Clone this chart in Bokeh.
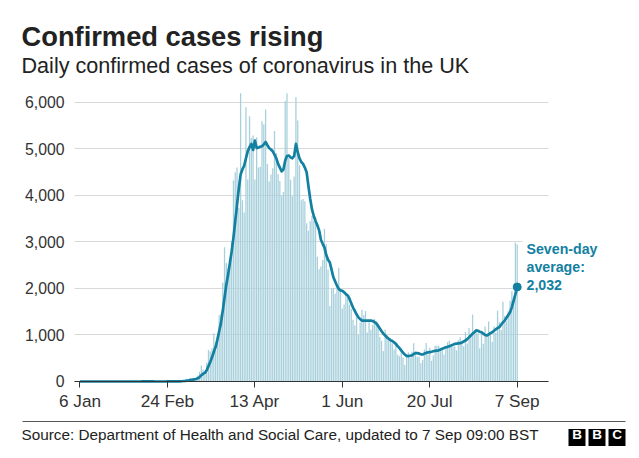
import pandas as pd
from bokeh.plotting import figure
from bokeh.models import (Range1d, FixedTicker, NumeralTickFormatter,
                          DatetimeTickFormatter, Label, BoxAnnotation)
from bokeh.embed import file_html
from bokeh.resources import INLINE

# ---------------- data ----------------
start_date = "2020-01-06"

daily_cases = [
    0, 0, 0, 0, 0, 0, 0, 0, 0, 0,
    0, 0, 0, 0, 0, 0, 0, 0, 0, 0,
    0, 0, 0, 0, 0, 2, 0, 0, 0, 0,
    0, 1, 0, 0, 0, 4, 1, 0, 1, 0,
    0, 0, 0, 0, 0, 0, 0, 0, 0, 4,
    0, 0, 2, 5, 3, 12, 4, 11, 34, 29,
    48, 45, 69, 43, 62, 77, 130, 208, 342, 251,
    152, 407, 676, 643, 714, 1035, 665, 967, 1427, 1452,
    2129, 2885, 2546, 2433, 2619, 3009, 4324, 4500, 4600, 3735,
    6200, 3900, 3634, 5900, 4344, 5706, 5234, 5288, 4342, 5252,
    4603, 4617, 5599, 5525, 5850, 4676, 4301, 4451, 4583, 5386,
    4913, 4463, 4309, 3996, 4076, 6032, 6201, 4806, 4339, 3985,
    4406, 6111, 5614, 4649, 3896, 3923, 3877, 3403, 3242, 3446,
    3560, 3451, 3534, 2684, 2412, 2472, 2615, 3287, 2959, 2409,
    1625, 2004, 2013, 1887, 2095, 2445, 1936, 1570, 1653, 1871,
    1805, 1650, 1557, 1326, 1205, 1387, 1003, 1266, 1541, 1425,
    1514, 1056, 1279, 1115, 1218, 1346, 1295, 1221, 958, 874,
    653, 1118, 1006, 890, 901, 815, 689, 829, 576, 544,
    624, 516, 352, 581, 630, 512, 642, 820, 650, 530,
    538, 398, 463, 687, 827, 580, 725, 445, 560, 769,
    768, 767, 686, 685, 581, 763, 846, 880, 743, 744,
    758, 670, 892, 950, 871, 758, 1062, 816, 1148, 1009,
    1441, 1012, 1077, 1040, 713, 1089, 812, 1182, 1033, 1288,
    1041, 853, 1184, 1048, 1522, 1276, 1108, 1715, 1406, 1295,
    1508, 1735, 1940, 1813, 2988, 2948,
]

seven_day_avg = [
    0, 0, 0, 0, 0, 0, 0, 0, 0, 0,
    0, 0, 0, 0, 0, 0, 0, 0, 0, 0,
    0, 0, 0, 0, 0, 0, 0, 0, 0, 0,
    0, 0, 0, 0, 0, 1, 1, 1, 1, 1,
    1, 1, 0, 0, 0, 0, 0, 0, 0, 1,
    1, 1, 1, 2, 2, 4, 4, 5, 10, 14,
    20, 26, 36, 40, 47, 53, 68, 93, 135, 165,
    185, 240, 330, 420, 520, 640, 740, 900, 1080, 1260,
    1520, 1800, 2080, 2300, 2550, 2800, 3100, 3450, 3800, 4150,
    4450, 4560, 4640, 4800, 4950, 5040, 5110, 4980, 5180, 5020,
    5030, 5050, 5060, 5100, 5150, 5080, 5020, 4990, 4950, 4880,
    4800, 4680, 4600, 4520, 4560, 4750, 4850, 4860, 4820, 4800,
    4850, 5110, 4930, 4800, 4720, 4680, 4600, 4500, 4200, 3930,
    3700, 3560, 3450, 3360, 3250, 3050, 2960, 2880, 2720, 2620,
    2560, 2400, 2240, 2150, 2060, 1990, 1960, 1950, 1920, 1880,
    1850, 1780, 1680, 1590, 1520, 1440, 1380, 1340, 1310, 1310,
    1310, 1310, 1310, 1310, 1300, 1280, 1250, 1200, 1140, 1080,
    1030, 990, 950, 920, 890, 870, 840, 810, 760, 720,
    670, 620, 580, 550, 545, 555, 560, 590, 610, 610,
    600, 585, 580, 600, 615, 625, 630, 640, 650, 660,
    665, 670, 690, 705, 720, 735, 745, 760, 775, 790,
    810, 815, 820, 825, 840, 860, 880, 910, 950, 990,
    1025, 1060, 1100, 1090, 1070, 1060, 1030, 1000, 990, 1010,
    1040, 1060, 1090, 1120, 1150, 1170, 1220, 1270, 1310, 1370,
    1430, 1490, 1600, 1740, 1880, 2032,
]

tick_dates = ["2020-01-06", "2020-02-24", "2020-04-13",
              "2020-06-01", "2020-07-20", "2020-09-07"]
y_ticks = [0, 1000, 2000, 3000, 4000, 5000, 6000]

title_text = "Confirmed cases rising"
subtitle_text = "Daily confirmed cases of coronavirus in the UK"
source_text = "Source: Department of Health and Social Care, updated to 7 Sep 09:00 BST"
annot_lines = ["Seven-day", "average:", "2,032"]
logo_letters = ["B", "B", "C"]

# ---------------- styling / layout ----------------
FONT = "Liberation Sans"
LINE_COL = "#1380A1"
BAR_COL = "#a7d0dc"
TEXT_COL = "#222222"
W, H = 631, 450
LABEL_DY = 8  # label baseline correction

dates = pd.date_range(start_date, periods=len(daily_cases), freq="D")
t0 = pd.Timestamp(start_date)
DAY_MS = 86400000


def ms(days):
    return (t0 + pd.Timedelta(days=days)).value / 1e6


chart_left, chart_right = ms(-3.08), ms(262.5)

p = figure(width=W, height=H, x_axis_type="datetime",
           x_range=Range1d(ms(-44.55), ms(309.05)),
           y_range=Range1d(-1484, 8193),
           output_backend="svg", toolbar_location=None,
           min_border_left=0, min_border_right=0,
           min_border_top=0, min_border_bottom=0)
p.outline_line_color = None
p.background_fill_color = "white"
p.border_fill_color = "white"

# grid
p.xgrid.visible = False
p.ygrid.ticker = FixedTicker(ticks=y_ticks)
p.ygrid.grid_line_color = "#d9d9d9"
p.ygrid.grid_line_width = 1
try:
    p.ygrid.cross_bounds = (chart_left, chart_right)
except AttributeError:
    p.ygrid.visible = False
    p.segment(x0=[chart_left] * len(y_ticks), y0=y_ticks,
              x1=[chart_right] * len(y_ticks), y1=y_ticks,
              line_color="#d9d9d9", line_width=1)

# data marks
p.vbar(x=dates, top=daily_cases, width=0.72 * DAY_MS, color=BAR_COL, line_color=None)
p.line(x=dates, y=seven_day_avg, line_color=LINE_COL, line_width=2.7, line_join="round")
p.scatter(x=[dates[-1]], y=[seven_day_avg[-1]], size=8, color=LINE_COL)

# axes
xa = p.xaxis[0]
xa.fixed_location = 0
xa.bounds = (chart_left, chart_right)
xa.ticker = FixedTicker(ticks=[pd.Timestamp(d).value / 1e6 for d in tick_dates])
fmt = "%-d %b"
xa.formatter = DatetimeTickFormatter(days=fmt, months=fmt, years=fmt, hours=fmt,
                                     hourmin=fmt, minutes=fmt, seconds=fmt)
xa.axis_line_color = "#333333"
xa.axis_line_width = 1.2
xa.major_tick_line_color = "#333333"
xa.major_tick_out = 6
xa.major_tick_in = 0
xa.minor_tick_line_color = None
xa.major_label_text_font = FONT
xa.major_label_text_font_size = "17.2px"
xa.major_label_text_color = "#333333"
xa.major_label_standoff = 4

ya = p.yaxis[0]
ya.fixed_location = chart_left
ya.bounds = (0, 6000)
ya.ticker = FixedTicker(ticks=y_ticks)
ya.formatter = NumeralTickFormatter(format="0,0")
ya.axis_line_color = None
ya.major_tick_line_color = None
ya.minor_tick_line_color = None
ya.major_tick_out = 0
ya.major_tick_in = 0
ya.major_label_text_font = FONT
ya.major_label_text_font_size = "15.8px"
ya.major_label_text_color = "#333333"
ya.major_label_standoff = 10


def lab(x, y, text, size, color=TEXT_COL, bold=False, align="left"):
    p.add_layout(Label(x=x, y=y + LABEL_DY, x_units="screen", y_units="screen",
                       text=text, text_font=FONT, text_font_size=size,
                       text_font_style="bold" if bold else "normal",
                       text_color=color, text_align=align,
                       text_baseline="alphabetic"))


def box(l, r, b, t, color):
    p.add_layout(BoxAnnotation(left=l, right=r, bottom=b, top=t,
                               left_units="screen", right_units="screen",
                               bottom_units="screen", top_units="screen",
                               fill_color=color, fill_alpha=1, line_color=None))


# titles (screen units: x from left edge, y up from bottom edge)
lab(21, 406.5, title_text, "27.3px", bold=True)
lab(21, 377.5, subtitle_text, "21.6px")

# end-of-line annotation (white box masks the grid lines behind it)
box(522, 549, 153, 212, "white")
for i, t in enumerate(annot_lines):
    lab(526, 194 - 18 * i, t, "14.2px", color=LINE_COL, bold=True)

# footer
box(22, 625, 28.5, 29.5, "#555555")
lab(21, 8, source_text, "15.3px")
for i, letter in enumerate(logo_letters):
    left = 568 + 20 * i
    box(left, left + 17, 4.5, 21.5, "black")
    lab(left + 8.5, 8.5, letter, "13.5px", color="white", bold=True, align="center")

open("out.html", "w").write(file_html(p, INLINE))
